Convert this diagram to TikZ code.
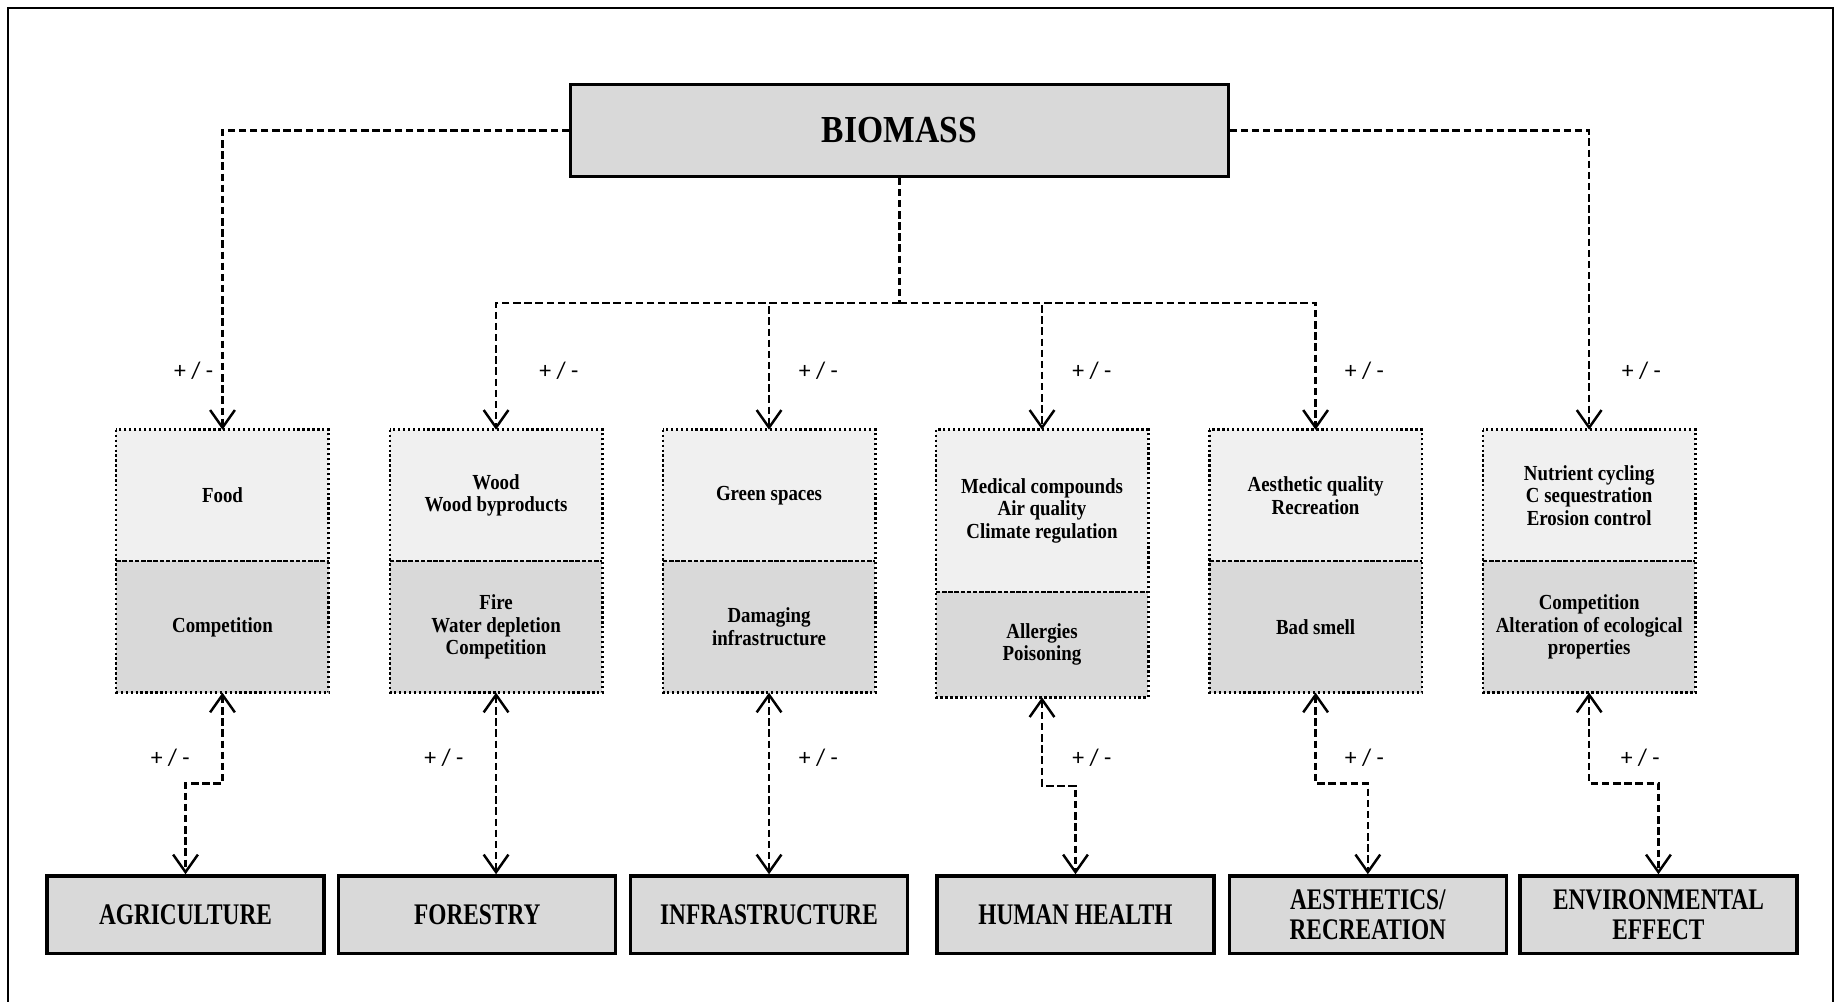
\documentclass[tikz,border=0pt]{standalone}
\usepackage{fontspec}
\setmainfont{Liberation Serif}[FakeStretch=0.88]
\newfontfamily\capsfont{Liberation Serif}[FakeStretch=0.78]
\newfontfamily\signfont{Carlito}
\usetikzlibrary{arrows.meta}
\usetikzlibrary{calc}

\definecolor{headgray}{HTML}{D9D9D9}
\definecolor{goodgray}{HTML}{F0F0F0}
\definecolor{badgray}{HTML}{D9D9D9}

\tikzset{
    conn/.style={line width=1.2pt, dash pattern=on 3.6pt off 1.8pt,
        >={Straight Barb[length=8.5pt,width=12pt]}},
    head/.style={draw, line width=1.5pt, fill=headgray, minimum width=11.2cm,
        minimum height=1.56cm, font=\bfseries\fontsize{18.5}{20}\selectfont},
    good/.style={fill=goodgray, minimum width=3.62cm, anchor=north, inner sep=0pt,
        outer sep=0pt, align=center, font=\bfseries\fontsize{10.4}{11}\selectfont},
    bad/.style={good, fill=badgray},
    sector/.style={draw, line width=1.6pt, fill=headgray, minimum width=4.72cm,
        minimum height=1.32cm, align=center,
        font=\capsfont\bfseries\fontsize{14.5}{14.7}\selectfont},
    sign/.style={font=\signfont\fontsize{11.5}{12}\selectfont},
    outline/.style={line width=1.2pt, dash pattern=on 1.1pt off 1.3pt},
    divider/.style={line width=0.9pt, dash pattern=on 2.2pt off 0.8pt}
}

\begin{document}
\begin{tikzpicture}[x=0.02cm, y=-0.02cm]
    \useasboundingbox (0,0) rectangle (1568,853);
    \draw[line width=1pt] (7,853) -- (7,7) -- (1561,7) -- (1561,853);

    \node[head] (bio) at (766,111) {BIOMASS};
    \coordinate (hub) at (766,258);

    % benefits on top, costs below
    \node[good, minimum height=2.24cm] (b1) at (189.5,366) {Food};
    \node[bad, minimum height=2.24cm] (c1) at (b1.south) {Competition};
    \node[good, minimum height=2.24cm] (b2) at (422.5,366) {Wood\\Wood byproducts};
    \node[bad, minimum height=2.24cm] (c2) at (b2.south) {Fire\\Water depletion\\Competition};
    \node[good, minimum height=2.24cm] (b3) at (655,366) {Green spaces};
    \node[bad, minimum height=2.24cm] (c3) at (b3.south) {Damaging\\infrastructure};
    \node[good, minimum height=2.76cm] (b4) at (887.5,366) {Medical compounds\\Air quality\\Climate regulation};
    \node[bad, minimum height=1.8cm] (c4) at (b4.south) {Allergies\\Poisoning};
    \node[good, minimum height=2.24cm] (b5) at (1120.5,366) {Aesthetic quality\\Recreation};
    \node[bad, minimum height=2.24cm] (c5) at (b5.south) {Bad smell};
    \node[good, minimum height=2.24cm] (b6) at (1353.5,366) {Nutrient cycling\\C sequestration\\Erosion control};
    \node[bad, minimum height=2.24cm] (c6) at (b6.south) {Competition\\Alteration of ecological\\properties};

    \draw[outline] (b1.north west) rectangle (c1.south east);
    \draw[divider] (b1.south west) -- (b1.south east);
    \draw[outline] (b2.north west) rectangle (c2.south east);
    \draw[divider] (b2.south west) -- (b2.south east);
    \draw[outline] (b3.north west) rectangle (c3.south east);
    \draw[divider] (b3.south west) -- (b3.south east);
    \draw[outline] (b4.north west) rectangle (c4.south east);
    \draw[divider] (b4.south west) -- (b4.south east);
    \draw[outline] (b5.north west) rectangle (c5.south east);
    \draw[divider] (b5.south west) -- (b5.south east);
    \draw[outline] (b6.north west) rectangle (c6.south east);
    \draw[divider] (b6.south west) -- (b6.south east);

    \node[sector] (s1) at (158,779) {AGRICULTURE};
    \node[sector] (s2) at (406.5,779) {FORESTRY};
    \node[sector] (s3) at (655,779) {INFRASTRUCTURE};
    \node[sector] (s4) at (916,779) {HUMAN HEALTH};
    \node[sector] (s5) at (1165,779) {AESTHETICS/\\RECREATION};
    \node[sector] (s6) at (1412.5,779) {ENVIRONMENTAL\\EFFECT};

    \draw[conn,->] (bio.west) -| (b1.north);
    \draw[conn,->] (bio.east) -| (b6.north);
    \draw[conn] (bio.south) -- (hub);
    \draw[conn,->] (hub) -| (b2.north);
    \draw[conn,->] (hub) -| (b3.north);
    \draw[conn,->] (hub) -| (b4.north);
    \draw[conn,->] (hub) -| (b5.north);

    \draw[conn,<->] (c1.south) |- ($(c1.south)!.5!(s1.north)$) -| (s1.north);
    \draw[conn,<->] (c2.south) -- (c2.south |- s2.north);
    \draw[conn,<->] (c3.south) -- (s3.north);
    \draw[conn,<->] (c4.south) |- ($(c4.south)!.5!(s4.north)$) -| (s4.north);
    \draw[conn,<->] (c5.south) |- ($(c5.south)!.5!(s5.north)$) -| (s5.north);
    \draw[conn,<->] (c6.south) |- ($(c6.south)!.5!(s6.north)$) -| (s6.north);

    \node[sign] (p1) at (165,316) {+ / -};
    \node[sign] (p2) at (476,316) {+ / -};
    \node[sign] (p3) at (697,316) {+ / -};
    \node[sign] (p4) at (930,316) {+ / -};
    \node[sign] (p5) at (1162,316) {+ / -};
    \node[sign] (p6) at (1398,316) {+ / -};
    \node[sign] (q1) at (145,645) {+ / -};
    \node[sign] (q2) at (378,645) {+ / -};
    \node[sign] (q3) at (697,645) {+ / -};
    \node[sign] (q4) at (930,645) {+ / -};
    \node[sign] (q5) at (1162,645) {+ / -};
    \node[sign] (q6) at (1397,645) {+ / -};
\end{tikzpicture}
\end{document}
